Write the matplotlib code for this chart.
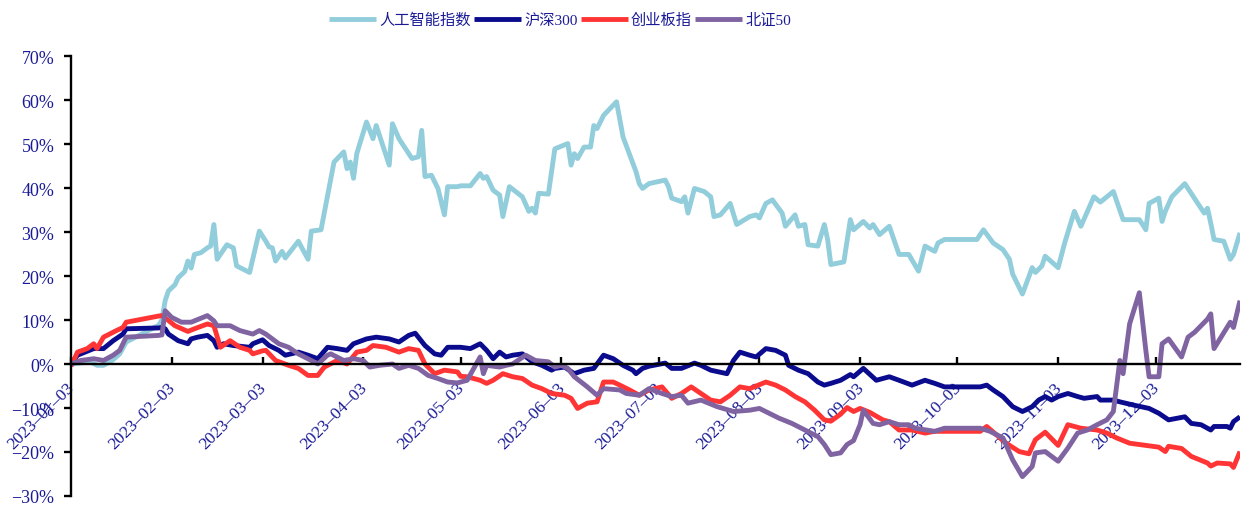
import matplotlib
matplotlib.use("Agg")
import matplotlib.pyplot as plt
import matplotlib.transforms as mtransforms
import pandas as pd

# ---------------- data (cumulative return, %) ----------------
series_names = ["人工智能指数", "沪深300", "创业板指", "北证50"]
series_colors = ["#92CDDC", "#0B0B8E", "#FF3535", "#8064A2"]

ai_dates = ["01-03","01-09","01-11","01-13","01-16","01-18","01-20","01-30","01-31","02-01","02-02","02-04","02-05","02-07","02-08","02-09","02-10","02-12","02-14","02-15","02-16","02-17","02-20","02-22","02-23","02-27","03-02","03-04","03-05","03-06","03-07","03-09","03-10","03-14","03-17","03-18","03-21","03-25","03-28","03-29","03-30","03-31","04-01","04-04","04-06","04-07","04-11","04-12","04-14","04-18","04-20","04-21","04-22","04-24","04-26","04-28","04-29","05-02","05-03","05-06","05-09","05-10","05-11","05-13","05-15","05-16","05-18","05-22","05-24","05-25","05-26","05-27","05-30","06-01","06-05","06-06","06-07","06-08","06-10","06-12","06-13","06-14","06-16","06-20","06-22","06-26","06-27","06-28","06-30","07-05","07-06","07-07","07-10","07-11","07-12","07-14","07-17","07-19","07-20","07-22","07-25","07-27","07-31","08-02","08-03","08-05","08-07","08-10","08-11","08-14","08-15","08-17","08-18","08-21","08-23","08-24","08-25","08-29","08-31","09-01","09-04","09-06","09-07","09-09","09-12","09-15","09-18","09-21","09-23","09-26","09-27","09-29","10-09","10-11","10-14","10-17","10-19","10-20","10-23","10-26","10-27","10-29","10-30","11-03","11-05","11-08","11-10","11-14","11-16","11-20","11-23","11-28","11-29","11-30","12-01","12-04","12-05","12-06","12-08","12-12","12-16","12-18","12-19","12-20","12-21","12-24","12-26","12-27","12-29"]
ai_vals = [0.0,0.5,-0.3,-0.3,1.0,2.3,5.0,8.8,10.0,14.4,16.6,18.0,19.6,21.0,23.4,21.8,24.9,25.3,26.4,26.8,31.7,23.8,27.1,26.4,22.3,20.8,30.2,27.9,26.6,26.4,23.4,25.6,24.1,27.9,23.8,30.2,30.5,45.9,48.2,44.4,45.9,42.2,47.8,55.0,51.2,54.2,45.2,54.6,51.2,46.7,47.1,53.1,42.6,42.9,39.9,33.9,40.3,40.3,40.5,40.5,43.3,42.2,42.6,39.5,38.4,33.5,40.3,38.0,34.7,35.4,34.3,38.8,38.6,48.9,50.1,45.2,47.8,46.7,49.3,49.3,54.2,53.5,56.5,59.6,51.6,43.7,41.0,39.9,41.0,41.8,40.3,37.7,36.9,38.0,34.3,39.9,39.2,38.0,33.5,33.9,36.5,31.7,33.5,33.9,33.2,36.5,37.3,34.3,31.3,33.9,31.3,31.7,27.1,26.8,31.7,28.3,22.6,23.2,32.8,30.5,32.4,30.9,31.7,29.4,31.3,24.9,24.9,21.1,26.8,25.6,27.5,28.3,28.3,30.5,27.5,26.0,23.8,20.4,15.9,21.9,20.8,22.3,24.5,21.9,27.5,34.7,31.3,38.0,36.8,39.2,32.8,32.8,31.7,30.5,36.5,37.7,32.4,34.7,38.0,41.0,36.5,34.3,35.4,32.0,28.3,27.9,23.8,24.9,29.8]

hs300_dates = ["01-03","01-05","01-10","01-13","01-16","01-19","01-20","01-30","01-31","02-01","02-02","02-05","02-08","02-09","02-11","02-14","02-16","02-17","02-19","02-22","02-27","02-28","03-03","03-05","03-08","03-10","03-14","03-17","03-20","03-23","03-26","03-29","03-31","04-04","04-07","04-11","04-14","04-17","04-19","04-22","04-25","04-27","04-29","05-03","05-06","05-09","05-11","05-13","05-15","05-17","05-19","05-22","05-25","05-28","05-31","06-01","06-04","06-07","06-10","06-13","06-16","06-19","06-22","06-25","06-26","06-28","06-30","07-05","07-07","07-10","07-14","07-16","07-19","07-24","07-26","07-28","07-31","08-02","08-05","08-08","08-11","08-12","08-15","08-18","08-21","08-23","08-25","08-28","08-31","09-01","09-04","09-08","09-12","09-15","09-19","09-23","09-26","09-29","10-10","10-12","10-14","10-17","10-20","10-23","10-26","10-28","10-30","11-01","11-03","11-06","11-09","11-11","11-15","11-16","11-20","11-22","11-26","12-01","12-04","12-07","12-12","12-14","12-17","12-20","12-21","12-25","12-26","12-27","12-29"]
hs300_vals = [0.0,2.0,3.5,3.5,5.3,6.8,8.0,8.2,8.3,8.0,6.8,5.3,4.6,5.7,6.1,6.5,5.3,3.8,4.6,4.2,3.8,4.6,5.5,4.2,3.1,2.0,2.7,2.0,1.2,3.8,3.5,3.1,4.6,5.7,6.1,5.7,5.0,6.5,7.0,4.2,2.3,2.0,3.8,3.8,3.5,4.6,3.1,1.2,2.7,1.6,2.0,2.3,0.5,-0.3,-1.4,-1.0,-0.7,-2.2,-1.4,-1.0,2.0,1.2,-0.3,-1.4,-2.2,-1.0,-0.5,0.2,-1.0,-1.0,0.2,-0.3,-1.4,-2.2,0.8,2.7,2.0,1.6,3.5,3.1,2.0,-0.3,-1.4,-2.2,-4.1,-4.8,-4.4,-3.7,-2.4,-2.9,-1.0,-3.7,-2.9,-3.7,-4.8,-3.7,-4.4,-5.2,-5.2,-4.8,-5.9,-7.4,-9.7,-10.8,-9.7,-8.2,-7.4,-8.2,-7.4,-6.7,-7.4,-7.8,-7.4,-8.2,-8.2,-8.6,-9.3,-10.1,-11.2,-12.7,-12.0,-13.5,-13.8,-15.0,-14.2,-14.2,-14.6,-13.1,-12.0]

cyb_dates = ["01-03","01-05","01-08","01-10","01-11","01-13","01-17","01-19","01-20","01-30","01-31","02-01","02-04","02-08","02-10","02-14","02-16","02-18","02-21","02-24","02-27","02-28","03-03","03-04","03-07","03-11","03-14","03-17","03-20","03-22","03-26","03-29","04-01","04-04","04-06","04-10","04-14","04-17","04-20","04-22","04-25","04-28","05-02","05-03","05-05","05-09","05-11","05-13","05-16","05-19","05-22","05-25","05-28","05-31","06-04","06-06","06-08","06-11","06-14","06-16","06-19","06-21","06-24","06-27","06-30","07-04","07-07","07-10","07-13","07-16","07-19","07-22","07-25","07-28","07-31","08-05","08-08","08-11","08-14","08-17","08-20","08-23","08-25","08-28","08-30","09-01","09-03","09-06","09-10","09-12","09-15","09-19","09-23","09-26","09-29","10-10","10-12","10-15","10-18","10-22","10-25","10-27","10-30","11-03","11-06","11-10","11-15","11-18","11-21","11-25","11-29","12-04","12-06","12-07","12-11","12-14","12-19","12-20","12-22","12-26","12-27","12-29"]
cyb_vals = [-0.5,2.7,3.5,4.6,3.5,6.1,7.6,8.3,9.5,10.9,11.0,10.5,8.7,7.4,8.0,9.1,8.7,3.8,5.3,3.8,3.1,2.3,3.0,3.1,0.8,-0.3,-1.0,-2.6,-2.6,-0.7,0.8,0.0,2.7,3.1,4.2,3.8,2.7,3.5,3.1,0.0,-2.2,-1.4,-1.8,-2.8,-2.9,-3.7,-4.4,-3.7,-2.2,-2.9,-3.3,-4.8,-5.6,-6.7,-7.1,-7.8,-10.1,-8.9,-8.6,-4.1,-4.1,-4.8,-5.9,-7.1,-5.9,-5.2,-7.8,-6.7,-5.2,-6.7,-8.2,-8.6,-7.1,-5.2,-5.6,-4.1,-4.8,-5.9,-7.4,-8.6,-10.5,-12.7,-13.0,-11.4,-9.9,-10.8,-10.1,-11.0,-12.7,-13.1,-15.0,-15.0,-15.7,-15.3,-15.3,-15.3,-14.2,-16.1,-18.0,-19.9,-20.4,-17.2,-15.5,-18.5,-13.8,-14.6,-15.0,-15.7,-16.8,-18.0,-18.4,-18.9,-19.9,-18.7,-19.2,-21.0,-22.5,-23.2,-22.5,-22.7,-23.5,-19.9]

bz50_dates = ["01-03","01-06","01-10","01-13","01-16","01-18","01-20","01-30","01-31","02-01","02-03","02-06","02-09","02-14","02-16","02-17","02-21","02-24","02-28","03-02","03-04","03-06","03-08","03-11","03-14","03-18","03-20","03-23","03-24","03-28","03-31","04-03","04-05","04-08","04-12","04-14","04-17","04-20","04-23","04-26","04-29","05-02","05-05","05-09","05-10","05-11","05-15","05-17","05-19","05-23","05-26","05-30","06-01","06-03","06-05","06-07","06-11","06-14","06-16","06-21","06-23","06-27","06-30","07-04","07-07","07-10","07-12","07-16","07-21","07-26","07-31","08-03","08-09","08-13","08-17","08-21","08-23","08-25","08-28","08-30","09-01","09-03","09-04","09-07","09-09","09-12","09-15","09-18","09-20","09-26","09-29","10-10","10-13","10-17","10-20","10-23","10-26","10-27","10-30","11-03","11-06","11-09","11-12","11-15","11-18","11-20","11-22","11-23","11-25","11-28","11-30","12-01","12-04","12-05","12-07","12-11","12-13","12-15","12-19","12-20","12-21","12-26","12-27","12-29"]
bz50_vals = [0.0,0.8,1.2,0.8,2.0,3.1,6.1,6.5,6.6,12.1,10.6,9.5,9.5,11.0,9.8,8.7,8.7,7.6,6.8,7.6,6.8,5.7,4.6,3.8,2.3,0.8,0.0,2.0,2.3,0.8,1.2,0.8,-0.7,-0.3,0.0,-1.0,-0.3,-1.0,-2.6,-3.3,-4.1,-4.3,-3.7,1.6,-2.2,-0.3,-0.7,-0.3,0.0,2.0,0.8,0.5,-0.7,-0.3,-1.0,-2.9,-5.2,-7.1,-5.6,-5.9,-6.7,-7.1,-5.6,-6.7,-7.4,-7.1,-8.9,-8.2,-9.7,-10.8,-10.5,-10.1,-12.3,-13.5,-15.0,-16.5,-18.3,-20.6,-20.2,-18.3,-17.4,-13.8,-10.5,-13.5,-13.8,-13.1,-13.8,-13.8,-14.6,-15.3,-14.6,-14.6,-15.3,-16.8,-21.8,-25.6,-23.3,-20.2,-19.9,-22.1,-19.1,-15.7,-15.0,-13.8,-12.7,-10.8,0.8,-2.2,9.1,16.2,3.1,-2.9,-2.9,4.6,5.7,1.6,6.1,7.2,10.2,11.4,3.5,9.5,8.3,14.4]

year = "2023"
tick_days = ["01-03","02-03","03-03","04-03","05-03","06-03","07-03","08-03","09-03","10-03","11-03","12-03"]
y_ticks = [-30, -20, -10, 0, 10, 20, 30, 40, 50, 60, 70]
x_start, x_end = "01-03", "12-29"

# ---------------- drawing ----------------
TXT = "#1A1A96"
fig = plt.figure(figsize=(12.43, 5.06), dpi=100)
ax = fig.add_axes([71/1243, 1 - 497/506, (1240 - 71)/1243, (497 - 57)/506])

def to_dt(lst):
    return pd.to_datetime([f"{year}-{d}" for d in lst])

all_dates = [ai_dates, hs300_dates, cyb_dates, bz50_dates]
all_vals = [ai_vals, hs300_vals, cyb_vals, bz50_vals]
for name, col, ds, vs in zip(series_names, series_colors, all_dates, all_vals):
    ax.plot(to_dt(ds), vs, color=col, lw=3.5, label=name,
            solid_joinstyle="round", solid_capstyle="butt")

ax.set_xlim(pd.Timestamp(f"{year}-{x_start}"), pd.Timestamp(f"{year}-{x_end}"))
ax.set_ylim(-30, 70)

for s in ["top", "right"]:
    ax.spines[s].set_visible(False)
ax.spines["bottom"].set_position(("data", 0))
for s in ["left", "bottom"]:
    ax.spines[s].set_linewidth(1.7)
    ax.spines[s].set_color("black")

ax.set_yticks(y_ticks)
ax.set_yticklabels([(f"{v}%" if v >= 0 else f"\u2212{abs(v)}%") for v in y_ticks],
                   fontfamily="Liberation Serif", fontsize=13, color=TXT)
ax.tick_params(axis="y", direction="out", length=5, width=1.7, pad=7)

ax.set_xticks(to_dt(tick_days))
ax.set_xticklabels([f"{year}\u2013{d.replace('-', chr(0x2013))}" for d in tick_days],
                   fontfamily="Liberation Serif", fontsize=12.5, color=TXT,
                   rotation=45, ha="right", va="top")
ax.tick_params(axis="x", direction="in", length=5, width=1.7, pad=11)
offset = mtransforms.ScaledTranslation(0.07, 0, fig.dpi_scale_trans)
for lab in ax.get_xticklabels():
    lab.set_transform(lab.get_transform() + offset)

leg = fig.legend(loc="center", bbox_to_anchor=(0.4505, 0.9585), ncol=4, frameon=False,
                 handlelength=3.1, handletextpad=0.2, columnspacing=0.2,
                 prop={"family": ["Liberation Serif", "Noto Sans CJK SC"], "size": 11})
for t in leg.get_texts():
    t.set_color(TXT)

fig.savefig("out.png", dpi=100)
